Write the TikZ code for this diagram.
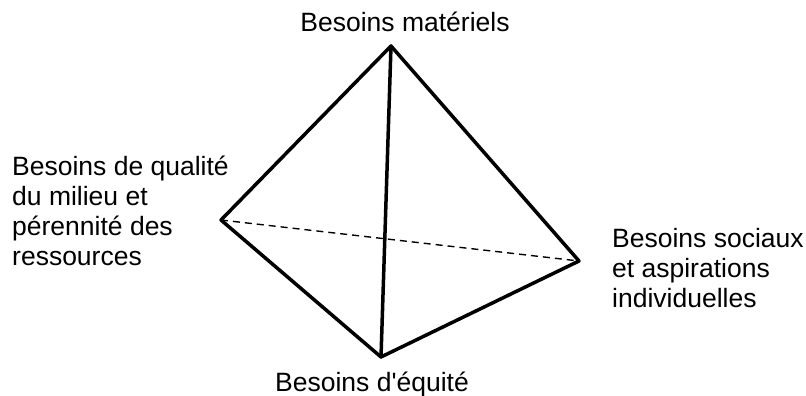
\documentclass[tikz,border=0pt]{standalone}
\usepackage{fontspec}
\setmainfont{Liberation Sans}
\begin{document}
\begin{tikzpicture}[x=1pt,y=-1pt,
  edge/.style={line width=3.5pt, line cap=round, line join=round},
  hidden/.style={line width=1.4pt, dash pattern=on 7pt off 5pt},
  lbl/.style={inner sep=0pt, font=\fontsize{26.5}{29.8}\selectfont, align=left}]
\useasboundingbox (0,0) rectangle (806,396);
\coordinate (T) at (391,46);
\coordinate (L) at (221,220);
\coordinate (R) at (579,261);
\coordinate (B) at (381,357);
\draw[hidden] (L) -- (R);
\draw[edge] (T) -- (L) -- (B) -- (R) -- cycle;
\draw[edge] (T) -- (B);
\node[lbl, anchor=base] (tl) at (405,32) {Besoins matériels};
\node[lbl, anchor=base west] (ll) at (12,265) {Besoins de qualité\\du milieu et\\pérennité des\\ressources};
\node[lbl, anchor=base west] (rl) at (612,307) {Besoins sociaux\\et aspirations\\individuelles};
\node[lbl, anchor=base] (bl) at (372,391) {Besoins d\textquotesingle équité};
\end{tikzpicture}
\end{document}
